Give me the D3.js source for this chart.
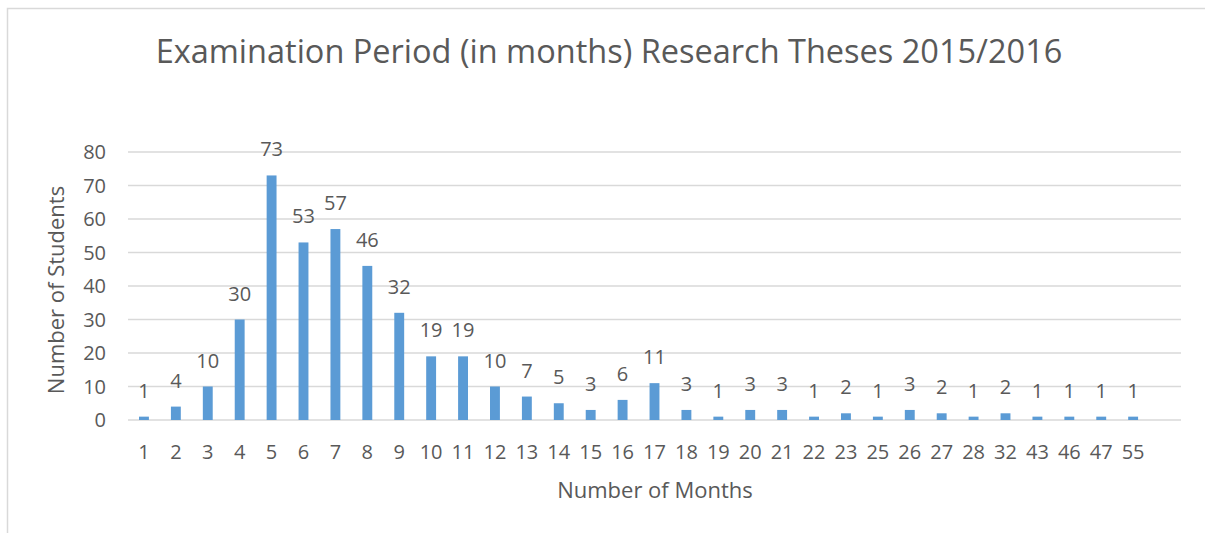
<!DOCTYPE html>
<html>
<head>
<meta charset="utf-8">
<script src="https://cdn.jsdelivr.net/npm/d3@7"></script>
<style>
  body { margin: 0; background: #fff; }
  text { font-family: "Open Sans", sans-serif; fill: #595959; }
</style>
</head>
<body>
<div id="vis"></div>
<script>
// months (x categories) and number of students per bar
var months = ["1","2","3","4","5","6","7","8","9","10","11","12","13","14","15","16",
  "17","18","19","20","21","22","23","25","26","27","28","32","43","46","47","55"];
var students = [1,4,10,30,73,53,57,46,32,19,19,10,7,5,3,6,11,3,1,3,3,1,2,1,3,2,1,2,1,1,1,1];
var yTicks = [0,10,20,30,40,50,60,70,80];

var width = 1205, height = 533;
var plot = { left: 128, right: 1181, top: 152, bottom: 420 };

var svg = d3.select('#vis').append('svg')
  .attr('width', width)
  .attr('height', height);

// outer chart border (runs off the bottom / right of the picture)
svg.append('rect')
  .attr('x', 7.5).attr('y', 8.5)
  .attr('width', 1220).attr('height', 540)
  .attr('fill', '#fff')
  .attr('stroke', '#d9d9d9')
  .attr('stroke-width', 1.5);

// Excel leaves one empty slot after the last category
var x = d3.scaleBand()
  .domain(months.concat(['']))
  .range([plot.left, plot.right])
  .paddingInner(0.69)
  .paddingOuter(0.345);

var y = d3.scaleLinear().domain([0, 80]).range([plot.bottom, plot.top]);

var xc = function (m) { return x(m) + x.bandwidth() / 2; };

var g = svg.append('g');

// gridlines
g.selectAll('.grid')
  .data(yTicks)
  .enter().append('line')
  .attr('class', 'grid')
  .attr('x1', plot.left).attr('x2', plot.right)
  .attr('y1', function (d) { return y(d); })
  .attr('y2', function (d) { return y(d); })
  .attr('stroke', '#d9d9d9')
  .attr('stroke-width', 1.5);

// y tick labels
g.selectAll('.ylab')
  .data(yTicks)
  .enter().append('text')
  .attr('class', 'ylab')
  .attr('x', 106)
  .attr('y', function (d) { return y(d) + 7; })
  .attr('text-anchor', 'end')
  .style('font-size', '20px')
  .text(function (d) { return d; });

// bars
g.selectAll('.bar')
  .data(students)
  .enter().append('rect')
  .attr('class', 'bar')
  .attr('x', function (d, i) { return x(months[i]); })
  .attr('width', x.bandwidth())
  .attr('y', function (d) { return y(d); })
  .attr('height', function (d) { return y(0) - y(d); })
  .attr('fill', '#5b9bd5');

// value labels
g.selectAll('.vlab')
  .data(students)
  .enter().append('text')
  .attr('class', 'vlab')
  .attr('x', function (d, i) { return xc(months[i]); })
  .attr('y', function (d) { return y(d) - 19; })
  .attr('text-anchor', 'middle')
  .style('font-size', '20px')
  .text(function (d) { return d; });

// x tick labels
g.selectAll('.xlab')
  .data(months)
  .enter().append('text')
  .attr('class', 'xlab')
  .attr('x', function (d) { return xc(d); })
  .attr('y', 459)
  .attr('text-anchor', 'middle')
  .style('font-size', '20px')
  .text(function (d) { return d; });

// titles
svg.append('text')
  .attr('x', 609).attr('y', 63)
  .attr('text-anchor', 'middle')
  .style('font-size', '32.5px')
  .text('Examination Period (in months) Research Theses 2015/2016');

svg.append('text')
  .attr('x', 655).attr('y', 498)
  .attr('text-anchor', 'middle')
  .style('font-size', '22px')
  .text('Number of Months');

svg.append('text')
  .attr('transform', 'translate(64,290) rotate(-90)')
  .attr('text-anchor', 'middle')
  .style('font-size', '22px')
  .text('Number of Students');
</script>
</body>
</html>
